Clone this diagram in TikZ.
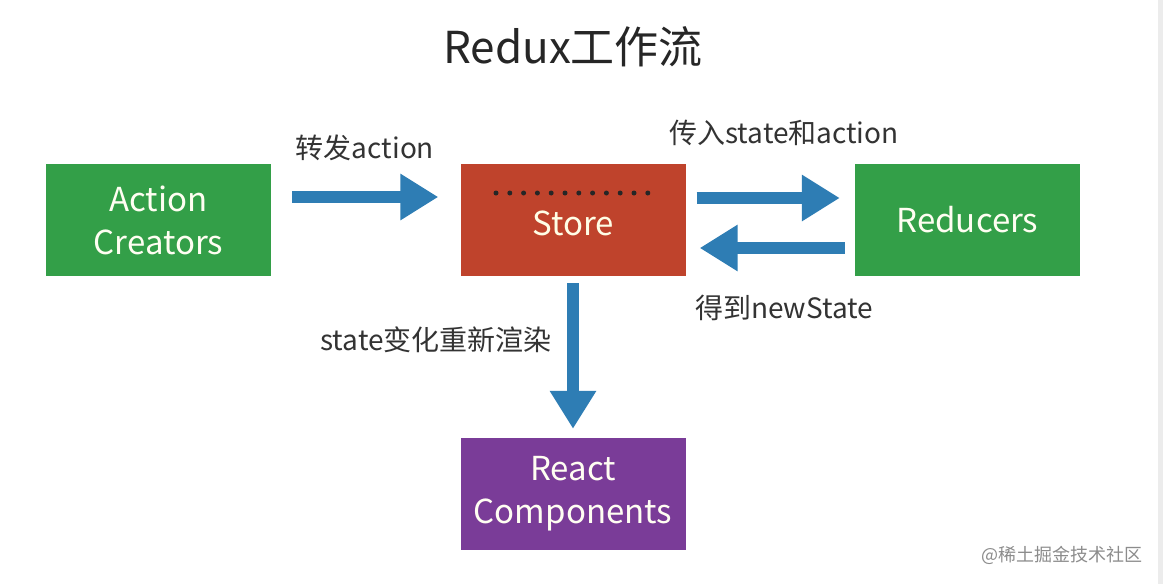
\documentclass[tikz,border=0pt]{standalone}
\usepackage{fontspec}
\setmainfont{Noto Sans CJK SC}
\usetikzlibrary{arrows.meta}
\definecolor{boxgreen}{HTML}{339F48}
\definecolor{boxred}{HTML}{BF432C}
\definecolor{boxpurple}{HTML}{7A3C98}
\definecolor{arrowblue}{HTML}{2E7DB4}
\definecolor{labelgray}{HTML}{333333}
\tikzset{
  box/.style={minimum width=225pt, minimum height=112pt, inner sep=0pt, align=center,
    font=\fontsize{33}{43}\selectfont, text=white!95!yellow},
  flow/.style={draw=arrowblue, line width=12pt,
    -{Triangle[length=38pt,width=44pt]}},
  lbl/.style={font=\fontsize{28}{32}\selectfont, text=labelgray, inner sep=0pt},
}
\begin{document}
\begin{tikzpicture}[x=1pt,y=-1pt]
\useasboundingbox[fill=white] (0,0) rectangle (1163,584);
\fill[gray!15] (1158,0) rectangle (1163,584);
\node[font=\fontsize{44}{50}\selectfont, text=black!85] (title) at (573,47) {Redux工作流};
\node[box, fill=boxgreen] (ac) at (158.5,220) {Action\\Creators};
\node[box, fill=boxred] (store) at (573,220) {};
\node[font=\fontsize{33}{40}\selectfont, text=white!90!yellow] (storetxt) at (573,223) {Store};
\node[box, fill=boxgreen] (red) at (967.5,220) {Reducers};
\node[box, fill=boxpurple] (rc) at (573,494) {React\\Components};
\coordinate (dotsL) at (496,193);
\coordinate (dotsR) at (648,193);
\draw[black!85, line width=5pt, line cap=round, dash pattern=on 0pt off 13.8pt] (dotsL) -- (dotsR);
% arrows
\draw[flow, shorten <=21pt, shorten >=22pt] ([yshift=23pt]ac.east) -- ([yshift=23pt]store.west);
\draw[flow, shorten <=11pt, shorten >=15pt] ([yshift=22pt]store.east) -- ([yshift=22pt]red.west);
\draw[flow, shorten <=10pt, shorten >=14pt] ([yshift=-28pt]red.west) -- ([yshift=-28pt]store.east);
\draw[flow, shorten <=7pt, shorten >=9pt] (store.south) -- (rc.north);
% labels
\node[lbl] (l1) at (365,148) {转发action};
\node[lbl] (l2) at (784,133) {传入state和action};
\node[lbl] (l3) at (784,308) {得到newState};
\node[lbl] (l4) at (436,340) {state变化重新渲染};
\node[font=\fontsize{18}{20}\selectfont, text=black!45, anchor=east] (wm) at (1146,555) {@稀土掘金技术社区};
\end{tikzpicture}
\end{document}
